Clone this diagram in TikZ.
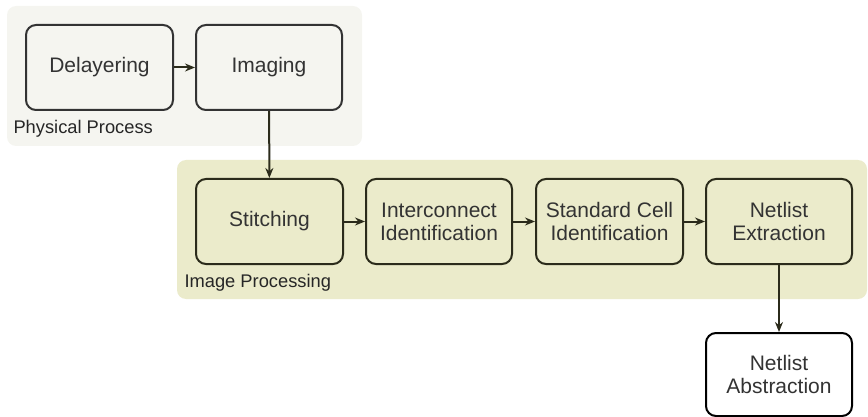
\documentclass[tikz,border=0pt]{standalone}
\usepackage{fontspec}
\setmainfont{Liberation Sans}
\usetikzlibrary{arrows.meta}
\definecolor{physbg}{HTML}{F5F5F0}
\definecolor{imgbg}{HTML}{EBEBCB}
\definecolor{physline}{HTML}{333333}
\definecolor{imgline}{HTML}{2B2B1B}
\definecolor{txt}{HTML}{333333}
\tikzset{
  group/.style={fill=#1, draw=none, rounded corners=9pt},
  stepbox/.style={draw=#1, line width=2pt, rounded corners=10pt, inner sep=0pt,
    font=\fontsize{21}{23}\selectfont, text=txt, align=center},
  flow/.style={draw=imgline, line width=2pt, -{Stealth[length=10pt,width=8pt]}},
  grouplabel/.style={anchor=west, font=\fontsize{18.3}{22}\selectfont, text=black!85}
}
\begin{document}
\begin{tikzpicture}[x=1pt,y=-1pt]
\useasboundingbox (0,0) rectangle (868,417);
% group backgrounds
\path[group=physbg] (7,6) rectangle (362,146);
\path[group=imgbg] (177,160) rectangle (867,299);
\node[grouplabel] (physlbl) at (10,129) {Physical Process};
\node[grouplabel] (imglbl) at (181,283) {Image Processing};
% process steps
\node[stepbox=physline, fill=physbg, minimum width=147pt, minimum height=85pt] (delayer) at (99.5,67.5) {Delayering};
\node[stepbox=physline, fill=physbg, minimum width=146pt, minimum height=85pt] (imaging) at (269,67.5) {Imaging};
\node[stepbox=imgline, fill=imgbg, minimum width=147pt, minimum height=85pt] (stitch) at (269.5,221.5) {Stitching};
\node[stepbox=imgline, fill=imgbg, minimum width=146pt, minimum height=85pt] (inter) at (439,221.5) {Interconnect\\Identification};
\node[stepbox=imgline, fill=imgbg, minimum width=147pt, minimum height=85pt] (stdcell) at (609.5,221.5) {Standard Cell\\Identification};
\node[stepbox=imgline, fill=imgbg, minimum width=146pt, minimum height=85pt] (extract) at (779,221.5) {Netlist\\Extraction};
\node[stepbox=black, fill=white, minimum width=146pt, minimum height=83pt] (abstract) at (779,374.5) {Netlist\\Abstraction};
% connectors
\draw[flow] (delayer) -- (imaging);
\draw[flow] (imaging) -- (stitch);
\draw[flow] (stitch) -- (inter);
\draw[flow] (inter) -- (stdcell);
\draw[flow] (stdcell) -- (extract);
\draw[flow] (extract) -- (abstract);
\end{tikzpicture}
\end{document}
